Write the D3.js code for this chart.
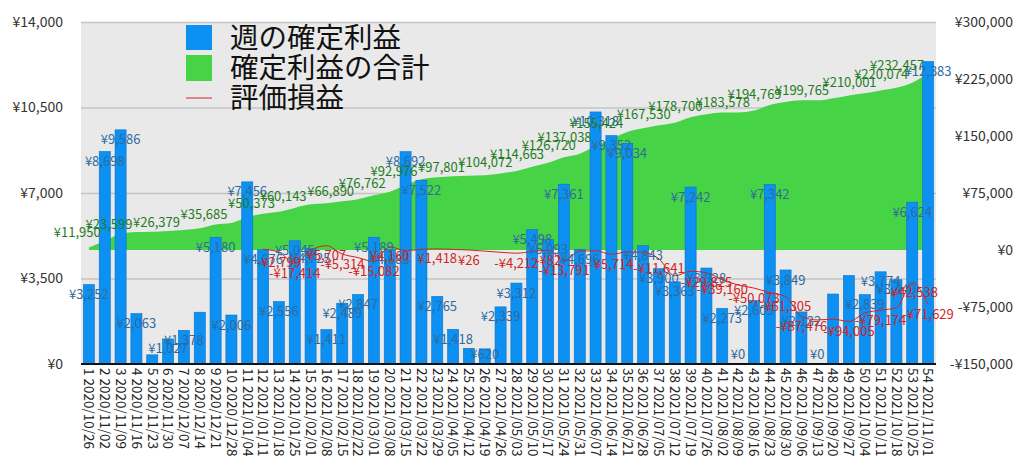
<!DOCTYPE html>
<html><head><meta charset="utf-8">
<script src="https://cdn.jsdelivr.net/npm/d3@7"></script>
<style>
html,body{margin:0;padding:0;background:#fff;}
svg{display:block;font-family:"Noto Sans CJK JP","Noto Sans",sans-serif;}
</style></head>
<body>
<svg id="chart" width="1024" height="474"></svg>
<script>
// ---- data ----
const weekNums = d3.range(1, 55);
const weekDates = ["2020/10/26","2020/11/02","2020/11/09","2020/11/16","2020/11/23","2020/11/30","2020/12/07","2020/12/14","2020/12/21","2020/12/28",
"2021/01/04","2021/01/11","2021/01/18","2021/01/25","2021/02/01","2021/02/08","2021/02/15","2021/02/22","2021/03/01","2021/03/08",
"2021/03/15","2021/03/22","2021/03/29","2021/04/05","2021/04/12","2021/04/19","2021/04/26","2021/05/03","2021/05/10","2021/05/17",
"2021/05/24","2021/05/31","2021/06/07","2021/06/14","2021/06/21","2021/06/28","2021/07/05","2021/07/12","2021/07/19","2021/07/26",
"2021/08/02","2021/08/09","2021/08/16","2021/08/23","2021/08/30","2021/09/06","2021/09/13","2021/09/20","2021/09/27","2021/10/04",
"2021/10/11","2021/10/18","2021/10/25","2021/11/01"];
// 週の確定利益
const weeklyProfit = [3252,8698,9586,2063,375,1027,1378,2120,5180,2006,7456,4676,2556,5045,4725,1411,2489,2847,5189,4683,
8692,7522,2765,1418,642,620,2339,3312,5498,5093,7361,4696,10318,9352,9034,4843,3900,3363,7242,3928,
2273,0,2605,7342,3849,2132,0,2864,3623,2839,3774,3449,6624,12383];
// 確定利益の合計
const cumulativeProfit = [3252,11950,21536,23599,23974,25001,26379,28499,33679,35685,43141,47817,50373,55418,60143,61554,64043,66890,72079,76762,
85454,92976,95741,97159,97801,98421,100760,104072,109570,114663,122024,126720,137038,146390,155424,160267,164167,167530,174772,178700,
180973,180973,183578,190920,194769,196901,196901,199765,203388,206227,210001,213450,220074,232457];
// 評価損益 (starts week 12)
const unrealized = [null,null,null,null,null,null,null,null,null,null,null,1000,-2799,-17414,-500,5707,-5314,-10000,-15082,4160,
-800,800,1418,800,26,-1500,-3000,-4212,-2000,-82,-13791,-1500,-1000,-5714,-2500,-3000,-11641,-34000,-28000,-29825,
-39160,-46000,-50073,-56000,-61305,-87476,-92000,-91000,-94005,-83000,-79174,-76000,-42538,-71629];
const leftTicks = [0,3500,7000,10500,14000];
const rightTicks = [-150000,-75000,0,75000,150000,225000,300000];
const seriesNames = ["週の確定利益","確定利益の合計","評価損益"];
// weeks whose value labels are visible in the original
const hiddenBarLabels = [5,8,25,48,49];
const cumLabelWeeks = [2,4,7,10,13,15,18,20,22,25,28,30,32,33,35,38,40,43,45,48,51,53,54];
const unrLabelWeeks = [13,14,16,17,19,20,23,25,28,30,31,34,37,40,41,43,45,46,49,51,53,54];

// ---- chart ----
const svg = d3.select("#chart");
const L = 81, R = 936, T = 22, B = 364;
const x = d3.scaleBand().domain(weekNums).range([L, R]).paddingInner(0.3).paddingOuter(0.15);
const yL = d3.scaleLinear().domain([0, 14000]).range([B, T]);
const yR = d3.scaleLinear().domain([-150000, 300000]).range([B, T]);
const cx = w => x(w) + x.bandwidth() / 2;
const yen = v => (v < 0 ? "-¥" : "¥") + d3.format(",")(Math.abs(v));

svg.append("rect").attr("x", L).attr("y", T).attr("width", R - L).attr("height", B - T).attr("fill", "#e9e9e9");

svg.append("g").selectAll("line").data(leftTicks.filter(t => t > 0)).join("line")
  .attr("x1", L).attr("x2", R).attr("y1", d => yL(d) + 0.5).attr("y2", d => yL(d) + 0.5)
  .attr("stroke", "#c4c4c4").attr("stroke-width", 1.5);

// green area
const area = d3.area().x((d, i) => cx(weekNums[i])).y0(yR(0)).y1(d => yR(d)).curve(d3.curveMonotoneX);
svg.append("path").datum(cumulativeProfit).attr("d", area).attr("fill", "#46d446");

// bars
svg.append("g").selectAll("rect").data(weeklyProfit).join("rect")
  .attr("x", (d, i) => x(weekNums[i])).attr("width", x.bandwidth())
  .attr("y", d => yL(d)).attr("height", d => B - yL(d))
  .attr("fill", "#0c90f2").attr("stroke", "#0a72c8").attr("stroke-width", 0.6);

// x axis line
svg.append("line").attr("x1", L).attr("x2", R).attr("y1", B).attr("y2", B).attr("stroke", "#111").attr("stroke-width", 2);

// red line
const line = d3.line().defined(d => d !== null).x((d, i) => cx(weekNums[i])).y(d => yR(d)).curve(d3.curveMonotoneX);
svg.append("path").datum(unrealized).attr("d", line).attr("fill", "none").attr("stroke", "#d62020").attr("stroke-width", 1);

// left axis labels
svg.append("g").selectAll("text").data(leftTicks).join("text")
  .attr("x", 63).attr("y", d => yL(d)).attr("dy", "0.35em").attr("text-anchor", "end")
  .attr("font-size", 14).attr("fill", "#333").text(d => yen(d));
// right axis labels
svg.append("g").selectAll("text").data(rightTicks).join("text")
  .attr("x", 1013).attr("y", d => yR(d)).attr("dy", "0.35em").attr("text-anchor", "end")
  .attr("font-size", 14).attr("fill", "#333").text(d => yen(d));

// x tick labels (rotated)
svg.append("g").selectAll("text").data(weekNums).join("text")
  .attr("transform", w => `translate(${cx(w)},368) rotate(90)`)
  .attr("dy", "0.35em").attr("font-size", 13.5).attr("fill", "#222")
  .text((w, i) => w + " " + weekDates[i]);

// bar labels
svg.append("g").selectAll("text").data(weekNums.filter(w => !hiddenBarLabels.includes(w))).join("text")
  .attr("x", w => cx(w)).attr("y", w => Math.min(yL(weeklyProfit[w - 1]) + 10, B - 10))
  .attr("dy", "0.35em").attr("text-anchor", "middle").attr("font-size", 13).attr("fill", "#2f6b9e")
  .text(w => yen(weeklyProfit[w - 1]));

// cumulative labels
svg.append("g").selectAll("text").data(cumLabelWeeks).join("text")
  .attr("x", w => cx(w) - 4).attr("y", w => yR(cumulativeProfit[w - 1]) - 8)
  .attr("dy", "0.35em").attr("text-anchor", "end").attr("font-size", 13).attr("fill", "#1f7d1f")
  .text(w => yen(cumulativeProfit[w - 1]));

// unrealized labels
svg.append("g").selectAll("text").data(unrLabelWeeks).join("text")
  .attr("x", w => cx(w)).attr("y", w => yR(unrealized[w - 1]) + 10)
  .attr("dy", "0.35em").attr("text-anchor", "middle").attr("font-size", 13).attr("fill", "#d42424")
  .text(w => yen(unrealized[w - 1]));

// legend
const lg = svg.append("g");
lg.append("rect").attr("x", 186).attr("y", 25).attr("width", 26).attr("height", 25).attr("fill", "#0c90f2");
lg.append("rect").attr("x", 186).attr("y", 55).attr("width", 26).attr("height", 26).attr("fill", "#46d446");
lg.append("line").attr("x1", 186).attr("x2", 212).attr("y1", 98).attr("y2", 98).attr("stroke", "#d62020").attr("stroke-width", 1);
lg.selectAll("text").data(seriesNames).join("text")
  .attr("x", 230).attr("y", (d, i) => 38 + i * 30).attr("dy", "0.36em")
  .attr("font-size", 28.5).attr("fill", "#111").text(d => d);
</script>
</body></html>
